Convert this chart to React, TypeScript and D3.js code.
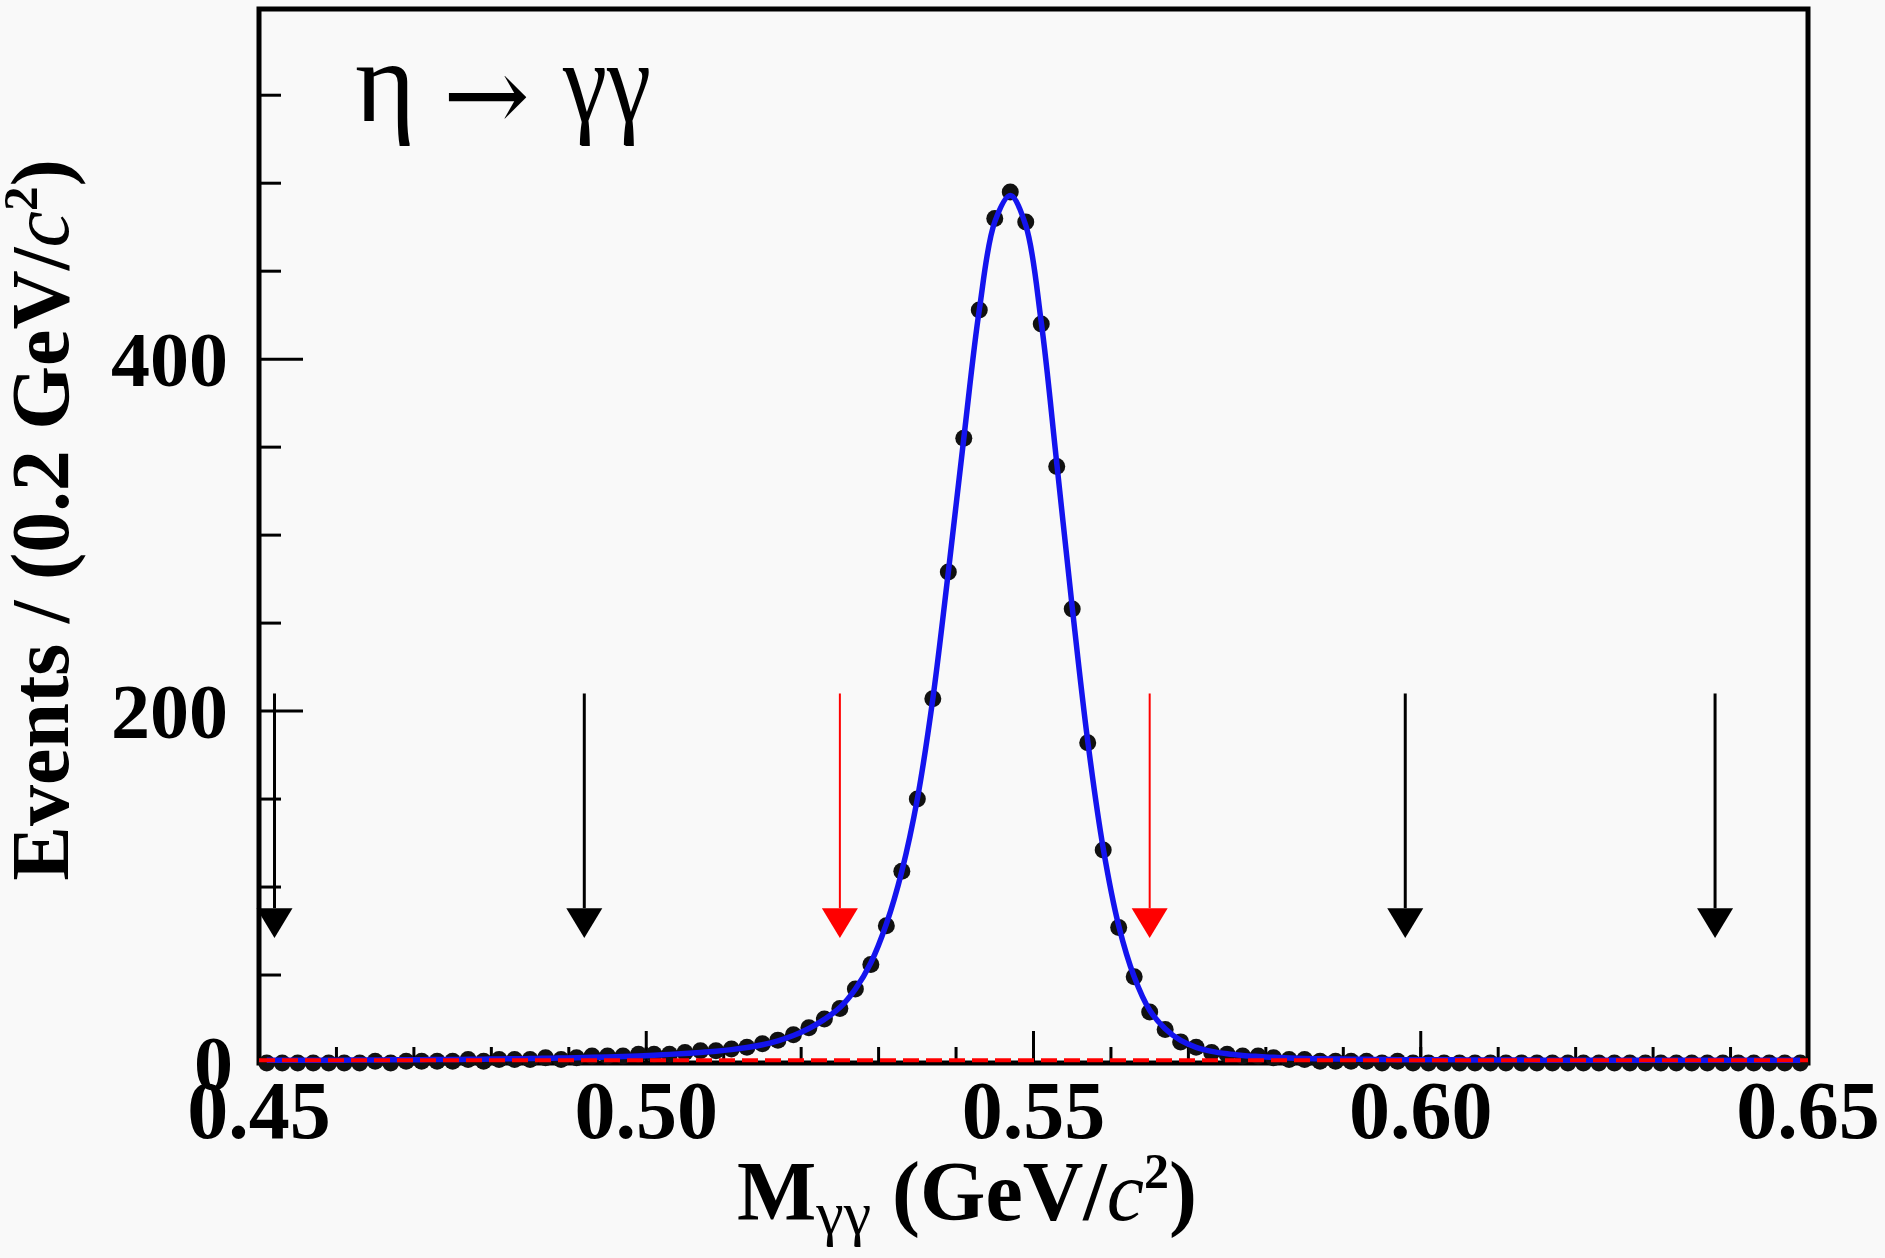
import { useEffect, useRef } from 'react';
import * as d3 from 'd3';

// histogram binning (GeV/c^2)
const BIN_START = 0.45;
const BIN_WIDTH = 0.002;

// event counts per bin (100 bins, 0.45 - 0.65)
const counts = [
  0, 0, 0, 0, 0, 0, 0, 1, 0, 1,
  1, 1, 1, 2, 1, 2, 2, 2, 3, 2,
  3, 4, 4, 4, 5, 5, 5, 6, 7, 7,
  8, 9, 11, 13, 16, 20, 25, 31, 42, 56,
  78, 109, 150, 207, 279, 355, 428, 480, 495, 478,
  420, 339, 258, 182, 121, 77, 49, 29, 19, 12,
  9, 6, 5, 4, 4, 3, 2, 2, 1, 1,
  1, 1, 0, 1, 0, 0, 0, 0, 0, 0,
  0, 0, 0, 0, 0, 0, 0, 0, 0, 0,
  0, 0, 0, 0, 0, 0, 0, 0, 0, 0,
];

// total fit evaluated at the bin centres
const fitValues = [
  1.5, 1.5, 1.5, 1.6, 1.6, 1.6, 1.7, 1.7, 1.8, 1.8,
  1.9, 2.0, 2.0, 2.1, 2.2, 2.3, 2.4, 2.5, 2.7, 2.8,
  3.0, 3.2, 3.4, 3.7, 4.0, 4.4, 4.9, 5.4, 6.0, 6.7,
  7.6, 8.8, 10.4, 12.6, 15.6, 19.6, 24.8, 31.5, 42, 57,
  79, 109, 150, 207, 279, 355, 428, 478, 493, 476,
  421, 341, 259, 183, 122, 78, 49, 30, 19.5, 12.8,
  8.9, 6.6, 5.2, 4.3, 3.7, 3.2, 2.9, 2.6, 2.4, 2.3,
  2.2, 2.1, 2.0, 1.9, 1.9, 1.8, 1.8, 1.8, 1.7, 1.7,
  1.7, 1.7, 1.6, 1.6, 1.6, 1.6, 1.6, 1.6, 1.5, 1.5,
  1.5, 1.5, 1.5, 1.5, 1.5, 1.5, 1.5, 1.5, 1.5, 1.5,
];

// flat background component
const bkgX = [0.45, 0.65];
const bkgY = [1.5, 1.5];

// sideband / signal window arrows
const blackArrows = [0.452, 0.492, 0.598, 0.638];
const redArrows = [0.525, 0.565];
const ARROW_TOP = 210;
const ARROW_HEAD = 88;
const ARROW_TIP = 71;

const xMajorTicks = [0.45, 0.5, 0.55, 0.6, 0.65];
const xMinorTicks = d3.range(0.46, 0.645, 0.01);
const yMajorTicks = [0, 200, 400];
const yMinorTicks = [50, 100, 150, 250, 300, 350, 450, 500, 550];

const W = 1885;
const H = 1258;

export default function App() {
  const svgRef = useRef<SVGSVGElement>(null);

  useEffect(() => {
    if (!svgRef.current) return;
    const svg = d3.select(svgRef.current);
    svg.selectAll('*').remove();

    const plot = { left: 259, right: 1808, top: 9, bottom: 1063 };
    const serif = '"Liberation Serif", "Times New Roman", serif';

    const x = d3.scaleLinear().domain([0.45, 0.65]).range([plot.left, plot.right]);
    const y = d3.scaleLinear().domain([0, 599]).range([plot.bottom, plot.top]);

    const centres = counts.map((_, i) => BIN_START + BIN_WIDTH * (i + 0.5));

    svg.append('rect').attr('width', W).attr('height', H).attr('fill', '#f9f9f9');

    // ticks
    const ticks = svg.append('g').attr('stroke', '#000').attr('stroke-width', 3);
    ticks.selectAll('.xmaj').data(xMajorTicks).enter().append('line')
      .attr('x1', d => x(d)).attr('x2', d => x(d))
      .attr('y1', plot.bottom).attr('y2', plot.bottom - 32);
    ticks.selectAll('.xmin').data(xMinorTicks).enter().append('line')
      .attr('x1', d => x(d)).attr('x2', d => x(d))
      .attr('y1', plot.bottom).attr('y2', plot.bottom - 16);
    ticks.selectAll('.ymaj').data(yMajorTicks).enter().append('line')
      .attr('x1', plot.left).attr('x2', plot.left + 44)
      .attr('y1', d => y(d)).attr('y2', d => y(d));
    ticks.selectAll('.ymin').data(yMinorTicks).enter().append('line')
      .attr('x1', plot.left).attr('x2', plot.left + 22)
      .attr('y1', d => y(d)).attr('y2', d => y(d));

    // frame
    svg.append('rect')
      .attr('x', plot.left).attr('y', plot.top)
      .attr('width', plot.right - plot.left).attr('height', plot.bottom - plot.top)
      .attr('fill', 'none').attr('stroke', '#000').attr('stroke-width', 5);

    // data points
    svg.append('g').selectAll('circle')
      .data(counts)
      .enter()
      .append('circle')
      .attr('cx', (_, i) => x(centres[i]))
      .attr('cy', d => y(d))
      .attr('r', 8.5)
      .attr('fill', '#111');

    // total fit
    const fitLine = d3.line<number>()
      .x((_, i) => x(centres[i]))
      .y(d => y(d))
      .curve(d3.curveCatmullRom.alpha(0.5));
    svg.append('path')
      .attr('d', fitLine(fitValues))
      .attr('fill', 'none')
      .attr('stroke', '#1414ee')
      .attr('stroke-width', 5.5);

    // background
    svg.append('path')
      .attr('d', d3.line<number>().x(d => x(d)).y((_, i) => y(bkgY[i]))(bkgX))
      .attr('fill', 'none')
      .attr('stroke', '#ff0000')
      .attr('stroke-width', 4)
      .attr('stroke-dasharray', '16,7');

    // arrows
    const drawArrow = (v: number, color: string, lw: number) => {
      const ax = x(v);
      const half = 18;
      svg.append('line')
        .attr('x1', ax).attr('x2', ax)
        .attr('y1', y(ARROW_TOP)).attr('y2', y(ARROW_HEAD))
        .attr('stroke', color).attr('stroke-width', lw);
      svg.append('path')
        .attr('d', `M${ax - half},${y(ARROW_HEAD)}L${ax + half},${y(ARROW_HEAD)}L${ax},${y(ARROW_TIP)}Z`)
        .attr('fill', color);
    };
    blackArrows.forEach(v => drawArrow(v, '#000', 3));
    redArrows.forEach(v => drawArrow(v, '#ff0000', 2));

    // tick labels
    svg.append('g').selectAll('text')
      .data(xMajorTicks)
      .enter()
      .append('text')
      .attr('x', d => x(d))
      .attr('y', 1138)
      .attr('text-anchor', 'middle')
      .attr('font-family', serif)
      .attr('font-weight', 'bold')
      .attr('font-size', 82)
      .text(d => d3.format('.2f')(d));

    svg.append('g').selectAll('text')
      .data(yMajorTicks)
      .enter()
      .append('text')
      .attr('x', d => (d === 0 ? 233 : 228))
      .attr('y', d => y(d))
      .attr('dy', '0.34em')
      .attr('text-anchor', 'end')
      .attr('font-family', serif)
      .attr('font-weight', 'bold')
      .attr('font-size', 78)
      .text(d => `${d}`);

    // x axis title
    const xt = svg.append('text')
      .attr('x', 737).attr('y', 1220)
      .attr('font-family', serif).attr('font-weight', 'bold').attr('font-size', 84);
    xt.append('tspan').text('M');
    xt.append('tspan').attr('dy', 14).attr('font-size', 62).attr('font-weight', 'normal').text('γγ');
    xt.append('tspan').attr('dy', -14).text(' (GeV/');
    xt.append('tspan').attr('font-style', 'italic').attr('font-weight', 'normal').text('c');
    xt.append('tspan').attr('dy', -32).attr('font-size', 50).text('2');
    xt.append('tspan').attr('dy', 32).text(')');

    // y axis title
    const yt = svg.append('text')
      .attr('transform', 'translate(68,520) rotate(-90)')
      .attr('text-anchor', 'middle')
      .attr('font-family', serif).attr('font-weight', 'bold').attr('font-size', 82);
    yt.append('tspan').text('Events / (0.2 GeV/');
    yt.append('tspan').attr('font-style', 'italic').attr('font-weight', 'normal').text('c');
    yt.append('tspan').attr('dy', -31).attr('font-size', 49).text('2');
    yt.append('tspan').attr('dy', 31).text(')');

    // decay label
    const label = svg.append('g').attr('font-family', serif);
    label.append('text').attr('x', 355).attr('y', 121).attr('font-size', 116).text('η');
    label.append('text').attr('x', 443).attr('y', 131)
      .attr('font-family', '"DejaVu Serif", serif').attr('font-size', 104)
      .attr('textLength', 87).attr('lengthAdjust', 'spacingAndGlyphs')
      .text('→');
    label.append('text').attr('x', 563).attr('y', 121).attr('font-size', 116)
      .attr('textLength', 88).attr('lengthAdjust', 'spacingAndGlyphs').text('γγ');
  }, []);

  return (
    <svg
      ref={svgRef}
      width={W}
      height={H}
      style={{ position: 'absolute', left: 0, top: 0 }}
    />
  );
}
